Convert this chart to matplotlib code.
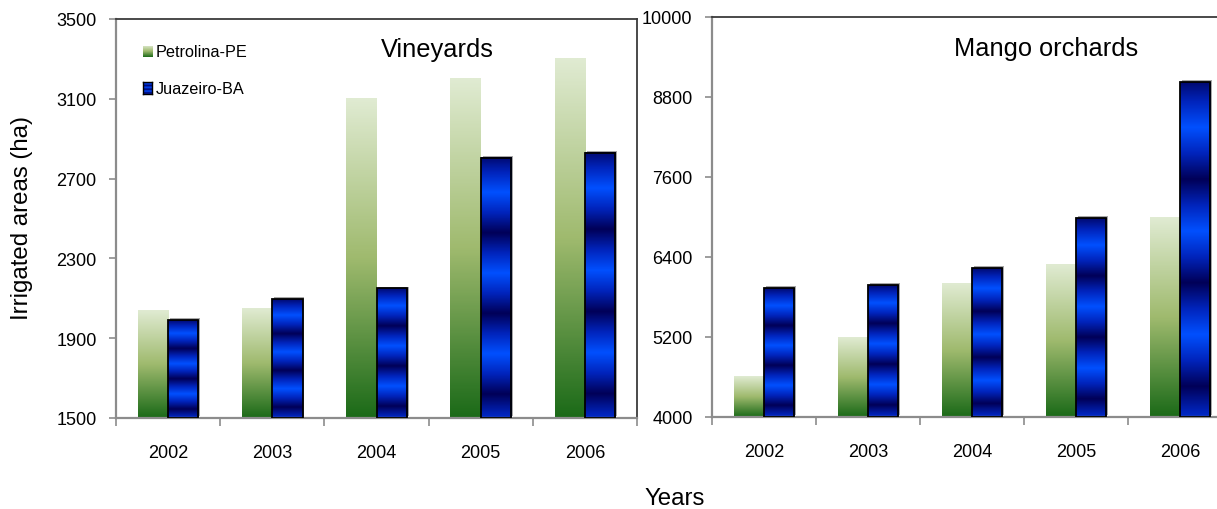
import numpy as np
import matplotlib
matplotlib.use('Agg')
import matplotlib.pyplot as plt
import matplotlib.transforms as mtransforms
from matplotlib.colors import LinearSegmentedColormap
from matplotlib.patches import Rectangle
from matplotlib import font_manager

plt.rcParams['font.family'] = 'Liberation Sans'

years = ['2002', '2003', '2004', '2005', '2006']
vine_petrolina = [2040, 2050, 3100, 3200, 3300]
vine_juazeiro = [1990, 2095, 2150, 2805, 2830]
mango_petrolina = [4610, 5200, 6000, 6290, 6990]
mango_juazeiro = [5930, 5980, 6230, 6980, 9020]
vine_ticks = [1500, 1900, 2300, 2700, 3100, 3500]
mango_ticks = [4000, 5200, 6400, 7600, 8800, 10000]

# tick numbers are set in a narrow face when one is available
installed = {f.name for f in font_manager.fontManager.ttflist}
narrow = next((n for n in ['Liberation Sans Narrow', 'DejaVu Sans Condensed']
               if n in installed), None)
tick_font = narrow or 'Liberation Sans'
tick_size = 14.5 if narrow else 13

green_cmap = LinearSegmentedColormap.from_list('grn', ['#1b6a18', '#9fba6e', '#e0ebd2'])
blue_cmap = LinearSegmentedColormap.from_list(
    'blu', ['#000058', '#0024bc', '#0050ff', '#0024bc', '#000058'])

BAR_W = 0.29
N = 300


def green_rgba():
    # bottom row first (origin='lower'): dark at the base, pale at the top
    return green_cmap(np.linspace(0, 1, N))[:, None, :]


def blue_rgba():
    s = np.linspace(0, 1, N)
    t = 1 - s                       # fraction measured from the bar top
    phase = (t / 0.31 + 0.067) % 1
    return blue_cmap(phase)[:, None, :]


def draw_bar(ax, x0, base, top, rgba, edge=False):
    ax.imshow(rgba, extent=(x0, x0 + BAR_W, base, top), origin='lower',
              aspect='auto', interpolation='bilinear', zorder=2)
    if edge:
        shadow = mtransforms.offset_copy(ax.transData, fig=ax.figure,
                                         x=1.3, y=1.3, units='points')
        ax.add_patch(Rectangle((x0, base), BAR_W, top - base, transform=shadow,
                               facecolor='#a8a8a8', edgecolor='none', zorder=1.5))
        ax.add_patch(Rectangle((x0, base), BAR_W, top - base, facecolor='none',
                               edgecolor='black', linewidth=1.3, zorder=3))


def panel(ax, pe, ba, ticks, title, title_x, title_y, right_spine=True):
    base = ticks[0]
    for i in range(len(years)):
        draw_bar(ax, i - BAR_W, base, pe[i], green_rgba())
        draw_bar(ax, i, base, ba[i], blue_rgba(), edge=True)
    ax.set_xlim(-0.5, len(years) - 0.5)
    ax.set_ylim(ticks[0], ticks[-1])
    ax.set_yticks(ticks)
    ax.set_yticklabels([str(t) for t in ticks], family=tick_font, fontsize=tick_size)
    ax.set_xticks(np.arange(-0.5, len(years)), labels=[''] * (len(years) + 1))
    ax.set_xticks(range(len(years)), labels=years, minor=True,
                  family=tick_font, fontsize=tick_size)
    ax.tick_params(axis='x', which='major', direction='out', length=6,
                   color='#8c8c8c', width=1.2)
    ax.tick_params(axis='x', which='minor', length=0, pad=19)
    ax.tick_params(axis='y', direction='out', length=5, color='#8c8c8c',
                   width=1.2, pad=9)
    for side in ('left', 'bottom'):
        ax.spines[side].set_color('#8c8c8c')
        ax.spines[side].set_linewidth(1.6)
    ax.spines['top'].set_color('#3a3a3a')
    ax.spines['top'].set_linewidth(1.3)
    ax.spines['right'].set_color('#3a3a3a')
    ax.spines['right'].set_linewidth(1.3)
    ax.spines['right'].set_visible(right_spine)
    ax.text(title_x, title_y, title, transform=ax.transAxes, ha='center',
            va='center', fontsize=18.3)


fig = plt.figure(figsize=(12.17, 5.10), dpi=100)
ax1 = fig.add_axes([116 / 1217, 91 / 510, 521 / 1217, 399 / 510])
ax2 = fig.add_axes([712 / 1217, 92.3 / 510, 520 / 1217, 400 / 510])

panel(ax1, vine_petrolina, vine_juazeiro, vine_ticks, 'Vineyards', 0.616, 0.925)
panel(ax2, mango_petrolina, mango_juazeiro, mango_ticks, 'Mango orchards', 0.642,
      0.922, right_spine=False)

# legend swatches with the same fills as the bars
for ycen, rgba, name, edge in [(0.919, green_rgba(), 'Petrolina-PE', False),
                               (0.827, blue_rgba(), 'Juazeiro-BA', True)]:
    sw = ax1.inset_axes([0.051, ycen - 0.014, 0.0185, 0.028])
    sw.imshow(rgba, origin='lower', aspect='auto', extent=(0, 1, 0, 1),
              interpolation='bilinear')
    sw.set_xticks([])
    sw.set_yticks([])
    for sp in sw.spines.values():
        sp.set_visible(edge)
        sp.set_linewidth(1.0)
    ax1.text(0.077, ycen, name, transform=ax1.transAxes, va='center',
             ha='left', fontsize=11.7)

fig.text(0.018, 0.573, 'Irrigated areas (ha)', rotation=90, ha='center',
         va='center', fontsize=17.3)
fig.text(0.554, 0.022, 'Years', ha='center', va='center', fontsize=17.3)

fig.savefig('out.png', dpi=100)
